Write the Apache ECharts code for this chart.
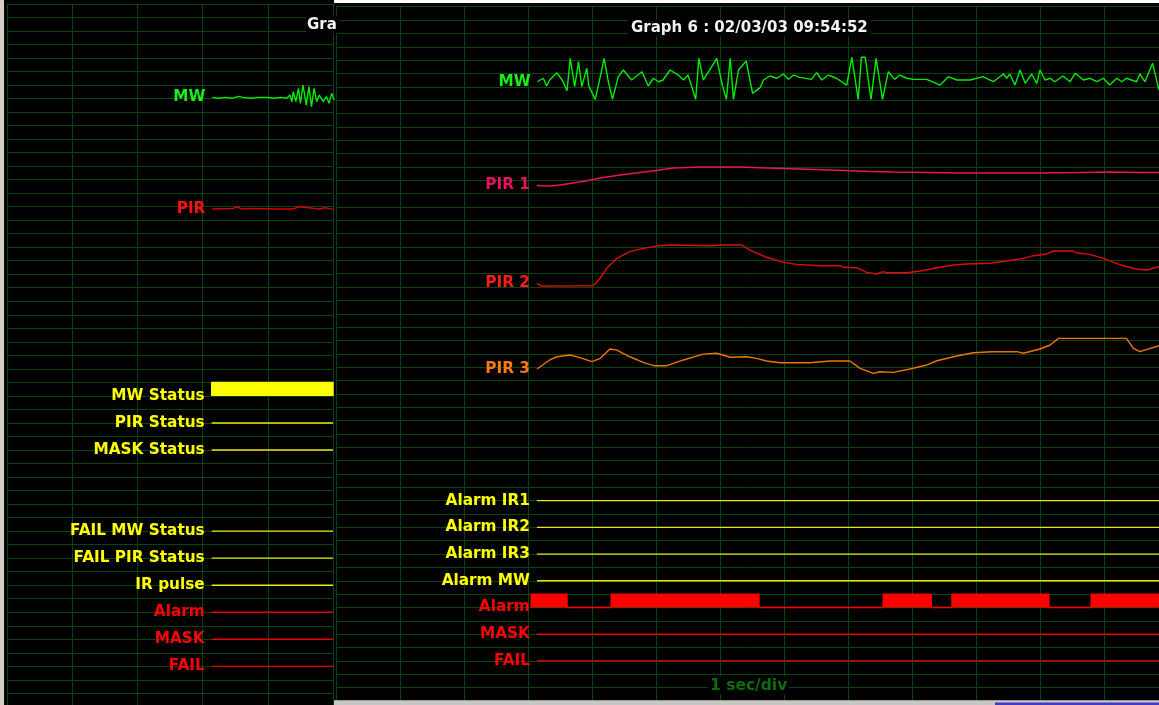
<!DOCTYPE html>
<html>
<head>
<meta charset="utf-8">
<script src="https://cdn.jsdelivr.net/npm/echarts@6/dist/echarts.min.js"></script>
<style>
html,body{margin:0;padding:0;background:#000;}
#chart{width:1159px;height:705px;}
</style>
</head>
<body>
<div id="chart"></div>
<script>
// ---------- DATA (time in s, vertical position in grid divisions from top) ----------
// Back window (Graph 5, partly hidden)
const backMW = [[3.15,6.92],[3.25,6.99],[3.35,6.92],[3.45,6.99],[3.55,6.85],[3.62,6.92],[3.75,6.99],[3.85,6.92],[4.0,6.92],[4.1,6.99],[4.2,6.92],[4.29,6.99],[4.34,6.75],[4.37,7.24],[4.39,6.50],[4.43,7.24],[4.47,6.25],[4.50,7.36],[4.54,6.01],[4.59,7.49],[4.63,6.13],[4.67,7.61],[4.71,6.25],[4.75,7.24],[4.79,6.75],[4.85,7.24],[4.90,6.87],[4.94,7.36],[4.98,6.62],[5.02,7.12]];
const backPIR = [[3.15,15.18],[3.47,15.13],[3.53,15.01],[3.60,15.18],[3.78,15.13],[4.08,15.18],[4.39,15.18],[4.47,15.01],[4.72,15.13],[4.80,15.18],[4.88,15.08],[5.0,15.20]];
const backMWStatusLevel = 29, backMWStatusHigh = 28;
const backMWStatusOn = [3.14], backMWStatusOff = [5.0];
const backYellowNames = ['PIR Status','MASK Status','FAIL MW Status','FAIL PIR Status','IR pulse'];
const backYellowLevels = [31,33,39,41,43];
const backRedNames = ['Alarm','MASK','FAIL'];
const backRedLevels = [45,47,49];
const backStart = 3.14, backEnd = 5.0;
const backTimeMax = 5, backDivMax = 51.86;

// Front window (Graph 6)
const frontMW = [[3.15,5.62],[3.19,5.49],[3.24,5.36],[3.29,5.94],[3.34,5.49],[3.45,4.94],[3.55,5.62],[3.61,6.29],[3.66,3.87],[3.73,5.99],[3.79,4.12],[3.84,5.99],[3.92,4.61],[3.95,5.94],[4.05,6.94],[4.13,5.24],[4.19,3.87],[4.25,5.49],[4.32,6.94],[4.41,5.24],[4.49,4.74],[4.62,5.49],[4.78,4.87],[4.88,5.94],[4.96,5.36],[5.04,5.62],[5.11,5.49],[5.22,4.74],[5.35,5.12],[5.43,5.49],[5.50,5.12],[5.56,5.99],[5.62,6.94],[5.67,3.87],[5.74,5.49],[5.84,4.74],[5.95,3.87],[6.03,5.74],[6.10,6.94],[6.16,3.87],[6.21,6.94],[6.29,4.74],[6.41,4.07],[6.51,6.49],[6.63,6.04],[6.68,5.49],[6.78,5.19],[6.89,5.36],[6.99,5.04],[7.07,5.44],[7.15,5.12],[7.25,5.29],[7.43,5.44],[7.51,4.94],[7.59,5.49],[7.69,5.12],[7.82,5.36],[7.98,5.87],[8.06,3.79],[8.16,6.94],[8.21,3.79],[8.27,3.79],[8.36,6.94],[8.44,3.87],[8.54,6.94],[8.63,4.87],[8.73,5.44],[8.81,5.12],[8.92,5.36],[9.02,5.44],[9.23,5.44],[9.44,5.87],[9.57,5.24],[9.70,5.49],[9.91,5.49],[10.11,5.24],[10.27,5.62],[10.43,5.04],[10.48,5.36],[10.53,5.04],[10.61,5.87],[10.69,4.74],[10.77,5.74],[10.87,5.04],[10.95,5.74],[11.0,4.74],[11.08,5.49],[11.16,5.36],[11.23,5.62],[11.36,5.19],[11.47,5.62],[11.55,4.99],[11.68,5.49],[11.78,5.36],[11.89,5.62],[11.99,5.36],[12.09,5.87],[12.20,5.36],[12.28,5.62],[12.35,5.36],[12.51,5.62],[12.56,5.04],[12.64,5.62],[12.76,4.24],[12.86,6.24]];
const frontPIR1 = [[3.14,13.39],[3.34,13.43],[3.5,13.36],[3.81,13.13],[4.13,12.83],[4.44,12.61],[4.75,12.42],[5.0,12.27],[5.27,12.08],[5.69,12.01],[6.31,12.01],[6.73,12.08],[7.25,12.16],[7.72,12.23],[8.34,12.34],[8.70,12.38],[9.28,12.42],[9.75,12.46],[10.38,12.46],[11.0,12.46],[11.63,12.42],[12.09,12.38],[12.56,12.42],[12.86,12.42]];
const frontPIR2 = [[3.14,20.72],[3.21,20.92],[4.02,20.90],[4.13,20.34],[4.23,19.60],[4.39,18.85],[4.59,18.35],[4.80,18.10],[5.01,17.93],[5.22,17.85],[5.84,17.90],[6.05,17.85],[6.34,17.85],[6.47,18.23],[6.73,18.77],[6.99,19.15],[7.20,19.30],[7.56,19.40],[7.88,19.40],[7.93,19.52],[8.14,19.55],[8.29,19.90],[8.45,20.02],[8.55,19.85],[8.60,19.93],[8.92,19.93],[9.13,19.80],[9.39,19.55],[9.65,19.35],[9.85,19.27],[10.22,19.22],[10.48,19.05],[10.74,18.85],[10.90,18.65],[11.10,18.52],[11.21,18.30],[11.52,18.30],[11.57,18.45],[11.78,18.55],[11.99,18.85],[12.15,19.15],[12.30,19.40],[12.51,19.65],[12.67,19.72],[12.86,19.48]];
const frontPIR3 = [[3.14,27.14],[3.34,26.46],[3.45,26.22],[3.66,26.09],[3.81,26.29],[4.0,26.59],[4.13,26.34],[4.28,25.64],[4.39,25.72],[4.59,26.22],[4.80,26.64],[4.96,26.89],[5.17,26.89],[5.43,26.46],[5.74,26.02],[5.95,25.96],[6.16,26.26],[6.42,26.22],[6.57,26.34],[6.73,26.54],[6.94,26.67],[7.40,26.67],[7.72,26.54],[8.03,26.54],[8.19,27.09],[8.40,27.46],[8.50,27.34],[8.71,27.39],[8.97,27.14],[9.23,26.84],[9.39,26.52],[9.70,26.16],[9.96,25.92],[10.25,25.84],[10.64,25.84],[10.74,25.96],[11.0,25.64],[11.16,25.34],[11.29,24.84],[12.35,24.84],[12.46,25.59],[12.56,25.84],[12.86,25.39]];
const frontYellowNames = ['Alarm IR1','Alarm IR2','Alarm IR3','Alarm MW'];
const frontYellowLevels = [37,39,41,43];
const frontAlarmLevel = 45, frontAlarmHigh = 44;
const frontAlarmOn  = [3.05, 4.30, 8.55, 9.625, 11.80];
const frontAlarmOff = [3.61, 6.61, 9.30, 11.14, 12.86];
const frontRedNames = ['MASK','FAIL'];
const frontRedLevels = [47,49];
const frontStart = 3.14, frontEnd = 12.86;
const frontTimeMax = 12.86, frontDivMax = 51.93;

const backTitle = 'Gra';
const frontTitle = 'Graph 6 : 02/03/03 09:54:52';
const scaleText = '1 sec/div';

// ---------- STYLE ----------
const FONT = 'DejaVu Sans';
const GRIDC = '#0a440a';
const LW = 1.4;
const C = {
  mw: '#00ee00', mwLabel: '#18f018',
  pir1: '#e8145e', pir2: '#e00c0c', pir2Label: '#ff1c1c', pir3: '#f07400', pir3Label: '#ff7a10',
  backPir: '#dc0000', backPirLabel: '#ff1010',
  yellow: '#e8e800', yellowLabel: '#ffff00', yellowBar: '#ffff00',
  red: '#e80000', redLabel: '#ff0000', redBar: '#ff0000'
};

function axis(grid, max) {
  return {
    type: 'value', gridIndex: grid, min: 0, max: max, interval: 1,
    axisLine: {show: false}, axisTick: {show: false}, axisLabel: {show: false},
    splitLine: {show: true, lineStyle: {color: GRIDC, width: 1}}
  };
}
function yaxis(grid, max) { const a = axis(grid, max); a.inverse = true; return a; }

function trace(grid, data, color) {
  return {type: 'line', xAxisIndex: grid, yAxisIndex: grid, data: data, symbol: 'none',
    lineStyle: {color: color, width: LW}, silent: true, animation: false, z: 2};
}
function pulse(grid, level, high, on, off, t0, t1, color) {
  const d = [[t0, level]];
  for (let i = 0; i < on.length; i++) {
    d.push([on[i], level], [on[i], high], [off[i], high], [off[i], level]);
  }
  d.push([t1, level]);
  return {type: 'line', xAxisIndex: grid, yAxisIndex: grid, data: d, symbol: 'none',
    lineStyle: {color: color, width: LW}, areaStyle: {color: color, opacity: 1, origin: level},
    silent: true, animation: false, z: 3};
}

const series = [];
const backLabels = [], frontLabels = [];
function lab(arr, text, pt, color, dist) {
  arr.push({value: [pt[0], pt[1]], name: text,
    label: {color: color, distance: dist == null ? 6.5 : dist}});
}

// back window
series.push(trace(0, backMW, C.mw)); lab(backLabels, 'MW', backMW[0], C.mwLabel);
series.push(trace(0, backPIR, C.backPir)); lab(backLabels, 'PIR', backPIR[0], C.backPirLabel);
series.push(pulse(0, backMWStatusLevel, backMWStatusHigh, backMWStatusOn, backMWStatusOff, backStart, backEnd, C.yellowBar));
lab(backLabels, 'MW Status', [backStart, backMWStatusLevel], C.yellowLabel);
backYellowNames.forEach((n, i) => {
  series.push(trace(0, [[backStart, backYellowLevels[i]], [backEnd, backYellowLevels[i]]], C.yellow));
  lab(backLabels, n, [backStart, backYellowLevels[i]], C.yellowLabel);
});
backRedNames.forEach((n, i) => {
  series.push(trace(0, [[backStart, backRedLevels[i]], [backEnd, backRedLevels[i]]], C.red));
  lab(backLabels, n, [backStart, backRedLevels[i]], C.redLabel);
});

// front window
series.push(trace(1, frontMW, C.mw)); lab(frontLabels, 'MW', frontMW[0], C.mwLabel);
series.push(trace(1, frontPIR1, C.pir1)); lab(frontLabels, 'PIR 1', frontPIR1[0], C.pir1);
series.push(trace(1, frontPIR2, C.pir2)); lab(frontLabels, 'PIR 2', frontPIR2[0], C.pir2Label);
series.push(trace(1, frontPIR3, C.pir3)); lab(frontLabels, 'PIR 3', frontPIR3[0], C.pir3Label);
frontYellowNames.forEach((n, i) => {
  series.push(trace(1, [[frontStart, frontYellowLevels[i]], [frontEnd, frontYellowLevels[i]]], C.yellow));
  lab(frontLabels, n, [frontStart, frontYellowLevels[i]], C.yellowLabel);
});
series.push(pulse(1, frontAlarmLevel, frontAlarmHigh, frontAlarmOn, frontAlarmOff, frontAlarmOn[0], frontEnd, C.redBar));
lab(frontLabels, 'Alarm', [frontAlarmOn[0], frontAlarmLevel], C.redLabel, 1);
frontRedNames.forEach((n, i) => {
  series.push(trace(1, [[frontStart, frontRedLevels[i]], [frontEnd, frontRedLevels[i]]], C.red));
  lab(frontLabels, n, [frontStart, frontRedLevels[i]], C.redLabel);
});

function labelSeries(grid, data) {
  return {type: 'scatter', xAxisIndex: grid, yAxisIndex: grid, data: data,
    symbol: 'rect', symbolSize: 1, itemStyle: {color: 'rgba(0,0,0,0)', opacity: 1},
    silent: true, animation: false, z: 5,
    label: {show: true, position: 'left', formatter: p => p.name,
      fontFamily: FONT, fontWeight: 'bold', fontSize: 15.3}};
}
series.push(labelSeries(0, backLabels));
series.push(labelSeries(1, frontLabels));

const titleStyle = {fontFamily: FONT, fontWeight: 'bold', fontSize: 15, color: '#f2f2f2'};
const option = {
  backgroundColor: '#000000',
  animation: false,
  title: [
    {text: backTitle, left: 306, top: 16.5, padding: [1, 2, 1, 1], backgroundColor: '#000', textStyle: titleStyle},
    {text: frontTitle, left: 628, top: 19.5, padding: [1, 3, 1, 3], backgroundColor: '#000', textStyle: titleStyle},
    {text: scaleText, left: 708, top: 676.5, padding: [1, 2, 1, 2], backgroundColor: '#000',
      textStyle: {fontFamily: FONT, fontWeight: 'bold', fontSize: 15.5, color: '#0b6e0b'}}
  ],
  grid: [
    {left: 7, top: 3.8, width: 326, height: 701.2},
    {left: 336, top: 6.7, width: 823, height: 693.3}
  ],
  xAxis: [axis(0, backTimeMax), axis(1, frontTimeMax)],
  yAxis: [yaxis(0, backDivMax), yaxis(1, frontDivMax)],
  series: series,
  graphic: [
    {type: 'rect', z: 100, silent: true, shape: {x: 0, y: 0, width: 4, height: 705}, style: {fill: '#d4d0c8'}},
    {type: 'rect', z: 100, silent: true, shape: {x: 334, y: 0, width: 825, height: 3}, style: {fill: '#ffffff'}},
    {type: 'rect', z: 100, silent: true, shape: {x: 334, y: 700, width: 825, height: 5}, style: {fill: '#c6c6c6'}},
    {type: 'rect', z: 101, silent: true, shape: {x: 334, y: 700, width: 825, height: 1}, style: {fill: '#a89c80'}},
    {type: 'rect', z: 101, silent: true, shape: {x: 995, y: 702.5, width: 164, height: 2.5}, style: {fill: '#3c3cc8'}}
  ]
};
const chart = echarts.init(document.getElementById('chart'));
chart.setOption(option);
</script>
</body>
</html>
